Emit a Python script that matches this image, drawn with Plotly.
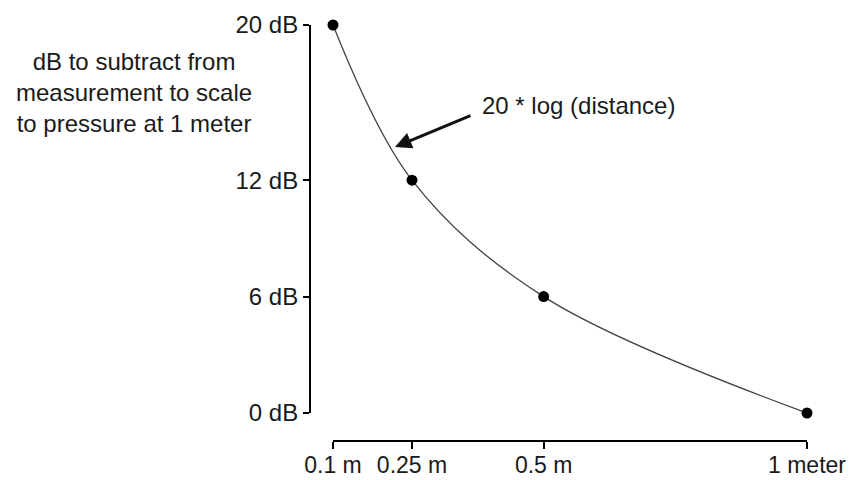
import plotly.graph_objects as go

# Data
distance_m = [0.1, 0.25, 0.5, 1.0]
db_subtract = [20, 12, 6, 0]

x_tickvals = [0.1, 0.25, 0.5, 1.0]
x_ticktext = ["0.1 m", "0.25 m", "0.5 m", "1 meter"]
y_tickvals = [0, 6, 12, 20]
y_ticktext = ["0 dB", "6 dB", "12 dB", "20 dB"]

W, H = 852, 480
FONT = "Liberation Sans, Arial, sans-serif"
FS = 24

fig = go.Figure()
fig.add_trace(go.Scatter(
    x=distance_m, y=db_subtract, mode="lines",
    line=dict(shape="spline", smoothing=1.0, color="#444444", width=1.3),
    cliponaxis=False, hoverinfo="skip", showlegend=False))
fig.add_trace(go.Scatter(
    x=distance_m, y=db_subtract, mode="markers",
    marker=dict(color="black", size=11),
    cliponaxis=False, showlegend=False))

fig.update_layout(
    width=W, height=H,
    margin=dict(l=0, r=0, t=0, b=0, autoexpand=False),
    paper_bgcolor="white", plot_bgcolor="white",
    font=dict(family=FONT, size=FS, color="#1a1a1a"),
    xaxis=dict(
        domain=[333 / W, 807 / W], range=[0.1, 1.0],
        anchor="free", position=1 - 441 / H, automargin=False,
        showline=True, linecolor="black", linewidth=2,
        ticks="outside", ticklen=7, tickwidth=2, tickcolor="black",
        tickvals=x_tickvals, ticktext=x_ticktext, ticklabelstandoff=-4,
        showgrid=False, zeroline=False,
        tickfont=dict(family=FONT, size=23, color="#1a1a1a"),
    ),
    yaxis=dict(
        domain=[1 - 413 / H, 1 - 25 / H], range=[0, 20],
        anchor="free", position=310 / W, automargin=False,
        showline=True, linecolor="black", linewidth=2,
        ticks="outside", ticklen=6, tickwidth=2, tickcolor="black",
        tickvals=y_tickvals, ticktext=y_ticktext,
        showgrid=False, zeroline=False,
        tickfont=dict(family=FONT, size=FS, color="#1a1a1a"),
    ),
)

fig.add_annotation(
    xref="paper", yref="paper", x=134 / W, y=1 - 92 / H,
    xanchor="center", yanchor="middle", align="center", showarrow=False,
    text="dB to subtract from<br>measurement to scale<br>to pressure at 1 meter",
    font=dict(family=FONT, size=FS, color="#1a1a1a"))

fig.add_annotation(
    xref="paper", yref="paper", x=480 / W, y=1 - 105 / H,
    xanchor="left", yanchor="middle", showarrow=False,
    text="20 * log (distance)",
    font=dict(family=FONT, size=FS, color="#1a1a1a"))

# arrow pointing at curve
fig.add_annotation(
    xref="x", yref="y", x=0.1 + (395 - 333) / (807 - 333) * 0.9,
    y=(413 - 147) / (413 - 25) * 20,
    text="", showarrow=True, arrowhead=2, arrowsize=1.1, arrowwidth=3,
    arrowcolor="#111111", ax=77, ay=-32)

fig.write_html(
    "out.html",
    config={"displayModeBar": False},
    post_script="document.body.style.margin='0';document.body.style.overflow='hidden';",
)
